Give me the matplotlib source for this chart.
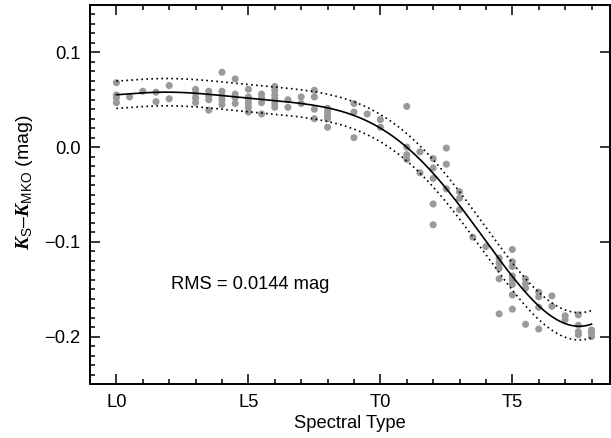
import numpy as np
import matplotlib
matplotlib.use("Agg")
import matplotlib.pyplot as plt
from matplotlib.ticker import MultipleLocator

plt.rcParams['font.family'] = ['Liberation Sans', 'DejaVu Sans']
plt.rcParams['mathtext.fontset'] = 'custom'
plt.rcParams['mathtext.rm'] = 'Liberation Sans'
plt.rcParams['mathtext.it'] = 'Liberation Sans:italic'
plt.rcParams['mathtext.bf'] = 'Liberation Serif:italic:bold'

# spectral type: L0 = 0, T0 = 10
spt = [0, 0, 0, 0,
       0.5,
       1,
       1.5, 1.5,
       2, 2,
       3, 3, 3, 3,
       3.5, 3.5, 3.5, 3.5,
       4, 4, 4, 4, 4,
       4.5, 4.5, 4.5, 4.5,
       5, 5, 5, 5, 5, 5,
       5.5, 5.5, 5.5, 5.5,
       6, 6, 6, 6, 6, 6,
       6.5, 6.5,
       7, 7,
       7.5, 7.5, 7.5, 7.5,
       8, 8, 8, 8, 8,
       9, 9, 9,
       9.5,
       10, 10,
       11, 11, 11, 11,
       11.5, 11.5,
       12, 12, 12, 12, 12,
       12.5, 12.5, 12.5,
       13, 13, 13,
       13.5,
       14,
       14.5, 14.5, 14.5, 14.5, 14.5,
       15, 15, 15, 15, 15, 15, 15, 15,
       15.5, 15.5, 15.5, 15.5,
       16, 16, 16, 16,
       16.5, 16.5,
       17, 17,
       17.5, 17.5, 17.5, 17.5,
       18, 18, 18]
dk = [0.068, 0.055, 0.052, 0.047,
      0.053,
      0.059,
      0.058, 0.048,
      0.065, 0.051,
      0.061, 0.057, 0.052, 0.047,
      0.059, 0.054, 0.050, 0.039,
      0.079, 0.059, 0.054, 0.050, 0.045,
      0.072, 0.056, 0.052, 0.046,
      0.061, 0.053, 0.050, 0.046, 0.042, 0.037,
      0.056, 0.052, 0.047, 0.035,
      0.064, 0.060, 0.055, 0.051, 0.046, 0.042,
      0.050, 0.042,
      0.053, 0.046,
      0.060, 0.053, 0.040, 0.030,
      0.041, 0.037, 0.033, 0.030, 0.021,
      0.046, 0.037, 0.010,
      0.035,
      0.029, 0.021,
      0.043, 0.000, -0.008, -0.013,
      -0.005, -0.027,
      -0.012, -0.022, -0.033, -0.060, -0.082,
      -0.001, -0.018, -0.044,
      -0.047, -0.054, -0.066,
      -0.095,
      -0.105,
      -0.117, -0.1225, -0.128, -0.139, -0.176,
      -0.108, -0.121, -0.126, -0.136, -0.140, -0.145, -0.156, -0.171,
      -0.139, -0.144, -0.149, -0.187,
      -0.153, -0.158, -0.169, -0.192,
      -0.157, -0.168,
      -0.178, -0.182,
      -0.177, -0.188, -0.195, -0.198,
      -0.193, -0.196, -0.200]

# fit curve at integer subtypes
fit_spt = list(range(19))
fit_dk = [0.055, 0.058, 0.058, 0.056, 0.054, 0.052, 0.050, 0.047, 0.041, 0.032,
          0.019, 0.000, -0.024, -0.063, -0.100, -0.137, -0.167, -0.186, -0.187]
rms = 0.0144

tick_pos = [0, 5, 10, 15]
tick_lab = ['L0', 'L5', 'T0', 'T5']

coef = np.polyfit(fit_spt, fit_dk, 7)
xx = np.linspace(0, 18, 300)
yy = np.polyval(coef, xx)

fig = plt.figure(figsize=(6.11, 4.38), dpi=100)
ax = fig.add_axes([90/611, 1-384/438, 520/611, 379/438])

ax.scatter(spt, dk, s=26, color='#9a9a9a', edgecolors='none', zorder=2)
ax.plot(xx, yy, color='black', lw=1.2, zorder=3)
ax.plot(xx, yy + rms, color='black', lw=1.2, ls=(0, (1, 2)), zorder=3)
ax.plot(xx, yy - rms, color='black', lw=1.2, ls=(0, (1, 2)), zorder=3)

ax.text(2.05, -0.1445, 'RMS = 0.0144 mag', fontsize=13.2, va='center', ha='left')

ax.set_xlim(-1, 18.7)
ax.set_ylim(-0.25, 0.15)
ax.set_xticks(tick_pos)
ax.set_xticklabels(tick_lab)
ax.xaxis.set_minor_locator(MultipleLocator(1))
ax.set_yticks([-0.2, -0.1, 0.0, 0.1])
ax.set_yticklabels(['\u22120.2', '\u22120.1', '0.0', '0.1'])
ax.yaxis.set_minor_locator(MultipleLocator(0.01))

ax.tick_params(which='both', direction='in', top=True, right=True, width=1.1, labelsize=13.2)
ax.tick_params(which='major', length=7.2, pad=7)
ax.tick_params(which='minor', length=3.6)
ax.tick_params(axis='y', which='minor', right=False)
for sp in ax.spines.values():
    sp.set_linewidth(1.4)

ax.set_xlabel('Spectral Type', fontsize=13.2, labelpad=3)
ax.set_ylabel(r'$\mathbf{K}_\mathrm{S}$' + '\u2013' + r'$\mathbf{K}_\mathrm{MKO}$ (mag)', fontsize=14)
ax.yaxis.set_label_coords(-0.105, 0.533)

fig.savefig('out.png', dpi=100)
